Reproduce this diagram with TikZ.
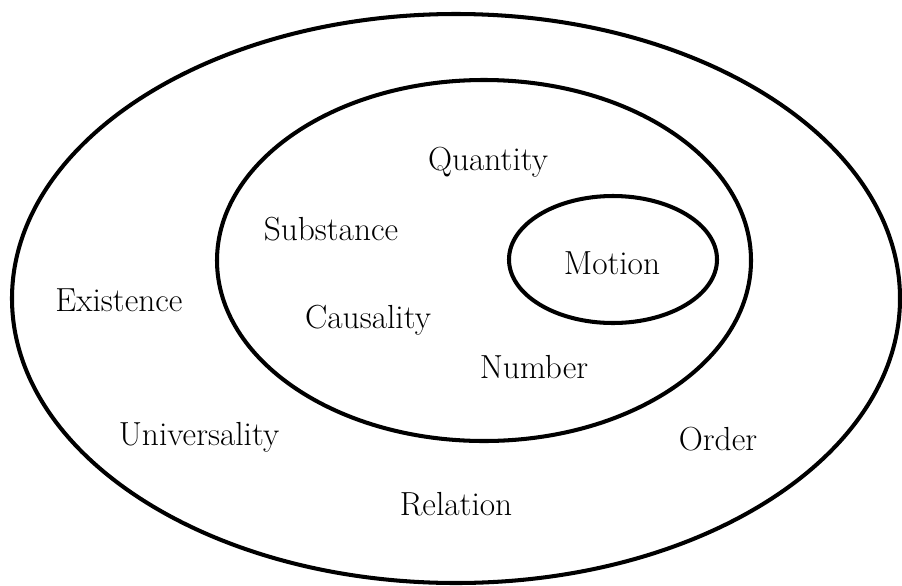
\documentclass[tikz,border=0pt]{standalone}
\begin{document}
\begin{tikzpicture}[x=0.02cm, y=-0.02cm, line width=2.3pt,
    every node/.style={font=\fontsize{19}{22}\selectfont, anchor=base, inner sep=0pt}]
      \useasboundingbox (0,0) rectangle (902,585);
      % the three rings
      \draw (456,298.5) ellipse (444 and 284.5);
      \draw (484,260.5) ellipse (267 and 180.5);
      \draw (613,259.5) ellipse (104 and 63.5);
      % inner ring
      \node (motion) at (612,274) {Motion};
      % middle ring
      \node (quantity) at (488,170) {Quantity};
      \node (substance) at (331,240) {Substance};
      \node (causality) at (368,328) {Causality};
      \node (number) at (534,378) {Number};
      % outer ring
      \node (existence) at (119,311) {Existence};
      \node (universality) at (199,445) {Universality};
      \node (order) at (718,450) {Order};
      \node (relation) at (456,515) {Relation};
    \end{tikzpicture}
\end{document}
